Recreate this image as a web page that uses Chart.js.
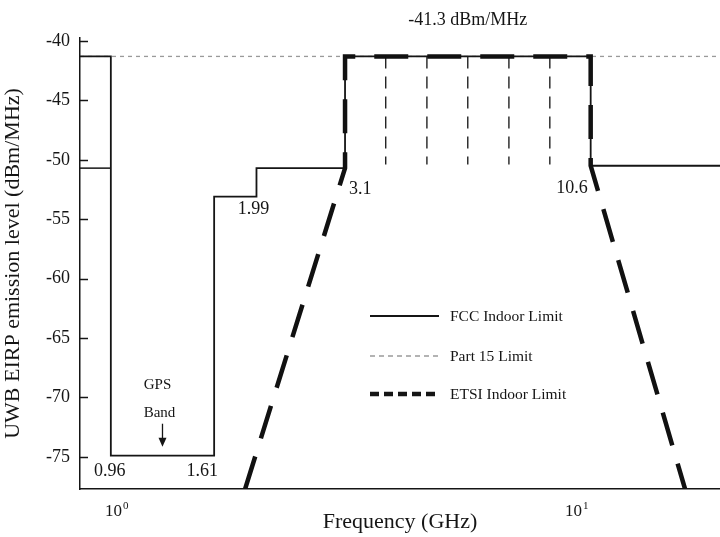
<!DOCTYPE html>
<html>
<head>
<meta charset="utf-8">
<script src="https://cdn.jsdelivr.net/npm/chart.js@4.4.1/dist/chart.umd.min.js"></script>
<style>
  html, body { margin: 0; padding: 0; background: #fff; }
  #wrap { width: 720px; height: 537px; position: relative; }
</style>
</head>
<body>
<div id="wrap"><canvas id="c" width="720" height="537"></canvas></div>
<script>
// Axis ranges: frequency in GHz (log), level in dBm/MHz
const freqRange = [0.8227, 20.25];
const levelRange = [-77.7, -39.75];
const levelTicks = [-75, -70, -65, -60, -55, -50, -45, -40];
const decadeTicks = [1, 10];
const decadeExponents = ['0', '1'];

// Band edges of the masks (GHz)
const bandEdges = [0.96, 1.61, 1.99, 3.1, 10.6];
const peakLevel = -41.3;

// FCC indoor limit
const fccFreq  = [0.8227, 0.96, 0.96, 1.61, 1.61, 1.99, 1.99, 3.1, 3.1, 10.6, 10.6, 20.25];
const fccLevel = [-41.3, -41.3, -74.9, -74.9, -53.1, -53.1, -50.7, -50.7, -41.3, -41.3, -50.5, -50.5];
// lower FCC step below 0.96 GHz
const fccLowFreq  = [0.8227, 0.96];
const fccLowLevel = [-50.7, -50.7];

// Part 15 limit
const part15Freq  = [0.8227, 20.25];
const part15Level = [-41.3, -41.3];

// ETSI indoor limit
const etsiFreq  = [1.88, 3.1, 3.1, 10.6, 10.6, 17.0];
const etsiLevel = [-77.7, -50.7, -41.3, -41.3, -50.5, -77.7];

// Sub-band dividers inside the 3.1-10.6 GHz band
const dividerFreq  = [3.8, 4.67, 5.73, 7.04, 8.64];
const dividerLevel = [-41.3, -50.4];

const legendNames = ['FCC Indoor Limit', 'Part 15 Limit', 'ETSI Indoor Limit'];

const SERIF = '"Liberation Serif", "Times New Roman", Times, serif';
const INK = '#151515';

const toPoints = (xs, ys) => xs.map((x, i) => ({ x: x, y: ys[i] }));
const dividerPoints = [];
dividerFreq.forEach(f => {
  dividerPoints.push({ x: f, y: dividerLevel[0] }, { x: f, y: dividerLevel[1] }, { x: f, y: null });
});

const lineBase = { showLine: true, pointRadius: 0, pointHoverRadius: 0, fill: false, tension: 0, spanGaps: false, borderCapStyle: 'butt', borderJoinStyle: 'miter' };

// Extra drawing: inward y ticks, decade labels, legend, band labels, GPS arrow
const decorations = {
  id: 'decorations',
  afterDatasetsDraw(chart) {
    const ctx = chart.ctx;
    const xs = chart.scales.x, ys = chart.scales.y;
    const area = chart.chartArea;
    const px = v => xs.getPixelForValue(v);
    const py = v => ys.getPixelForValue(v);
    ctx.save();

    // tick marks pointing into the plot
    ctx.strokeStyle = INK;
    ctx.lineWidth = 1.5;
    levelTicks.forEach(v => {
      const y = Math.round(py(v)) + 0.5;
      ctx.beginPath();
      ctx.moveTo(area.left, y);
      ctx.lineTo(area.left + 8, y);
      ctx.stroke();
    });

    ctx.fillStyle = INK;

    // decade labels 10^n under the frequency axis
    decadeTicks.forEach((v, i) => {
      const x = px(v);
      ctx.textBaseline = 'alphabetic';
      ctx.textAlign = 'right';
      ctx.font = '17px ' + SERIF;
      ctx.fillText('10', x + 3, area.bottom + 27);
      ctx.textAlign = 'left';
      ctx.font = '11px ' + SERIF;
      ctx.fillText(decadeExponents[i], x + 4, area.bottom + 20);
    });

    ctx.textBaseline = 'middle';

    // level of the flat top
    ctx.font = '18px ' + SERIF;
    ctx.textAlign = 'center';
    ctx.fillText(peakLevel + ' dBm/MHz', (px(bandEdges[3]) + px(bandEdges[4])) / 2, area.top - 18);

    // band edge labels
    ctx.font = '18px ' + SERIF;
    ctx.textAlign = 'center';
    ctx.fillText(String(bandEdges[0]), px(bandEdges[0]) - 1, py(fccLevel[2]) + 16);
    ctx.fillText(String(bandEdges[1]), px(bandEdges[1]) - 12, py(fccLevel[3]) + 16);
    ctx.fillText(String(bandEdges[2]), px(bandEdges[2]) - 3, py(fccLevel[5]) + 13);
    ctx.textAlign = 'left';
    ctx.fillText(String(bandEdges[3]), px(bandEdges[3]) + 4, py(fccLevel[7]) + 21);
    ctx.textAlign = 'right';
    ctx.fillText(String(bandEdges[4]), px(bandEdges[4]) - 3, py(fccLevel[10]) + 23);

    // GPS band marker
    const gx = (px(bandEdges[0]) + px(bandEdges[1])) / 2;
    const gBase = py(fccLevel[2]);
    ctx.font = '15px ' + SERIF;
    ctx.textAlign = 'center';
    ctx.fillText('GPS', gx - 5, gBase - 71);
    ctx.fillText('Band', gx - 3, gBase - 43);
    ctx.lineWidth = 1.3;
    ctx.beginPath();
    ctx.moveTo(gx, gBase - 32);
    ctx.lineTo(gx, gBase - 16);
    ctx.stroke();
    ctx.beginPath();
    ctx.moveTo(gx - 4, gBase - 18);
    ctx.lineTo(gx + 4, gBase - 18);
    ctx.lineTo(gx, gBase - 9);
    ctx.closePath();
    ctx.fill();

    // legend
    const lx0 = area.left + 290, lx1 = area.left + 359, tx = area.left + 370;
    const rows = [316, 356, 394];
    const styles = [
      { color: INK, width: 2, dash: [] },
      { color: '#9a9a9a', width: 1.6, dash: [5, 4] },
      { color: INK, width: 4.5, dash: [9, 5] }
    ];
    ctx.font = '15.5px ' + SERIF;
    ctx.textAlign = 'left';
    rows.forEach((y, i) => {
      const s = styles[i];
      ctx.strokeStyle = s.color;
      ctx.lineWidth = s.width;
      ctx.setLineDash(s.dash);
      ctx.beginPath();
      ctx.moveTo(lx0, y);
      ctx.lineTo(lx1, y);
      ctx.stroke();
      ctx.setLineDash([]);
      ctx.fillStyle = INK;
      ctx.fillText(legendNames[i], tx, y + 1);
    });
    ctx.restore();
  }
};

new Chart(document.getElementById('c'), {
  type: 'scatter',
  data: {
    datasets: [
      Object.assign({}, lineBase, { label: legendNames[2], data: toPoints(etsiFreq, etsiLevel), borderColor: '#111', borderWidth: 4.5, borderDash: [34, 19] }),
      Object.assign({}, lineBase, { label: legendNames[0], data: toPoints(fccFreq, fccLevel), borderColor: INK, borderWidth: 1.8 }),
      Object.assign({}, lineBase, { label: 'FCC lower step', data: toPoints(fccLowFreq, fccLowLevel), borderColor: INK, borderWidth: 1.5 }),
      Object.assign({}, lineBase, { label: 'Sub-bands', data: dividerPoints, borderColor: '#222', borderWidth: 1.4, borderDash: [12, 8] }),
      Object.assign({}, lineBase, { label: legendNames[1], data: toPoints(part15Freq, part15Level), borderColor: '#9a9a9a', borderWidth: 1.3, borderDash: [4, 4] })
    ]
  },
  options: {
    responsive: false,
    animation: false,
    events: [],
    layout: { padding: { top: 38, right: 0, bottom: 0, left: 0 } },
    plugins: { legend: { display: false }, tooltip: { enabled: false } },
    scales: {
      x: {
        type: 'logarithmic',
        min: freqRange[0],
        max: freqRange[1],
        afterBuildTicks: s => { s.ticks = decadeTicks.map(v => ({ value: v })); },
        afterFit: s => { s.height = 48; },
        grid: { display: false, drawTicks: false },
        border: { display: true, color: INK, width: 1.5 },
        ticks: { display: false },
        title: { display: true, text: 'Frequency (GHz)', color: INK, font: { family: SERIF, size: 22 }, padding: { top: 0, bottom: 2 } }
      },
      y: {
        type: 'linear',
        min: levelRange[0],
        max: levelRange[1],
        afterBuildTicks: s => { s.ticks = levelTicks.map(v => ({ value: v })); },
        afterFit: s => { s.width = 80; },
        grid: { display: false, drawTicks: false },
        border: { display: true, color: INK, width: 1.5 },
        ticks: { padding: 10, color: INK, font: { family: SERIF, size: 18 }, callback: v => String(v) },
        title: { display: true, text: 'UWB EIRP emission level (dBm/MHz)', color: INK, font: { family: SERIF, size: 22 }, padding: { top: 0, bottom: 0 } }
      }
    }
  },
  plugins: [decorations]
});
</script>
</body>
</html>
